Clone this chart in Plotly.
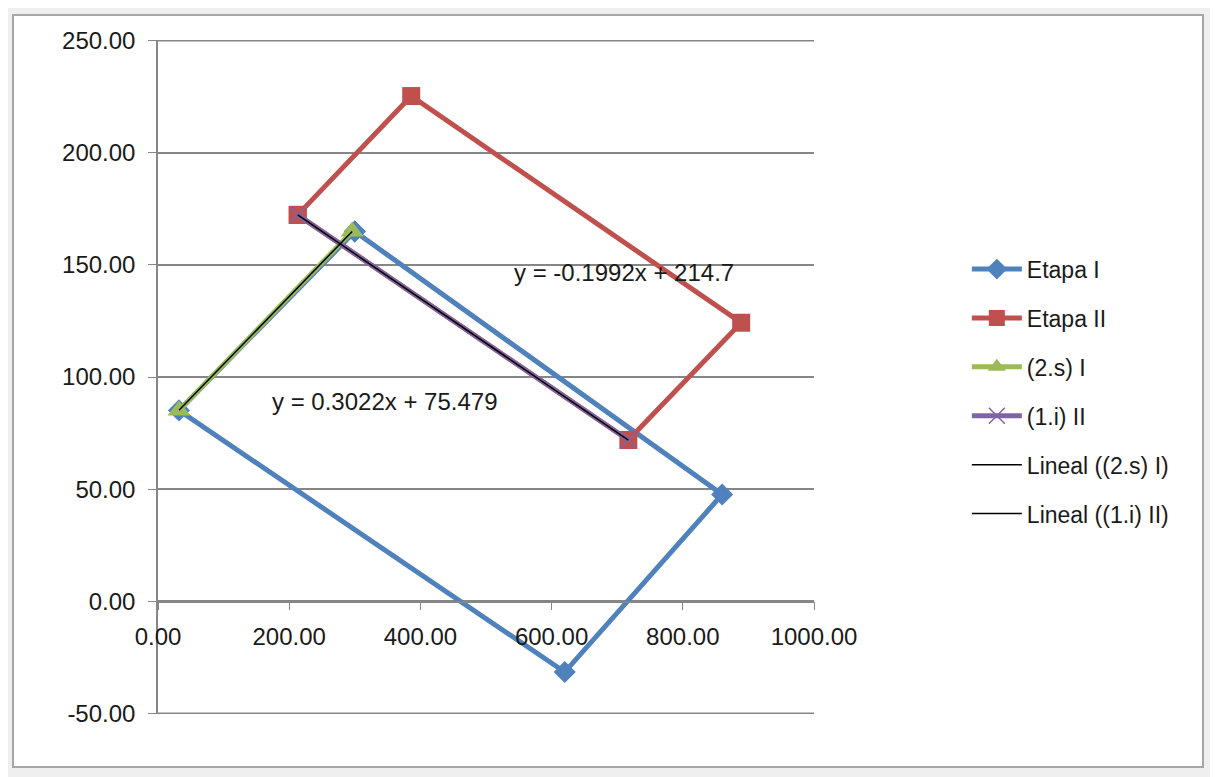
import plotly.graph_objects as go

# ---- data ----
etapa1_x = [300, 32, 620, 860, 300]
etapa1_y = [164.9, 85.1, -31.6, 47.6, 164.9]
etapa2_x = [213, 386, 889, 717, 213]
etapa2_y = [172.3, 225.3, 124.2, 71.9, 172.3]
s2_x = [32, 296]
s2_y = [85.1, 164.9]
i1_x = [213, 717]
i1_y = [172.3, 71.9]
trend_s2 = (0.3022, 75.479)
trend_i1 = (-0.1992, 214.7)
eq_s2_text = "y = 0.3022x + 75.479"
eq_i1_text = "y = -0.1992x + 214.7"
x_ticks = [0, 200, 400, 600, 800, 1000]
x_ticktext = ["0.00", "200.00", "400.00", "600.00", "800.00", "1000.00"]
y_ticks = [-50, 0, 50, 100, 150, 200, 250]
y_ticktext = ["-50.00", "0.00", "50.00", "100.00", "150.00", "200.00", "250.00"]

FONT = "Liberation Sans"
BLUE, RED, GREEN, PURPLE = "#4F81BD", "#C0504D", "#9BBB59", "#8064A2"
TXT = "#1a1a1a"
GRID = "#868686"

fig = go.Figure()
fig.add_trace(go.Scatter(x=etapa1_x, y=etapa1_y, mode="lines+markers", name="Etapa I",
                         legendgroup="a",
                         line=dict(color=BLUE, width=5),
                         marker=dict(symbol="diamond", size=17, color=BLUE)))
fig.add_trace(go.Scatter(x=etapa2_x, y=etapa2_y, mode="lines+markers", name="Etapa II",
                         legendgroup="b",
                         line=dict(color=RED, width=5),
                         marker=dict(symbol="square", size=18, color=RED)))
fig.add_trace(go.Scatter(x=s2_x, y=s2_y, mode="lines+markers", name="(2.s) I",
                         legendgroup="c",
                         line=dict(color=GREEN, width=5),
                         marker=dict(symbol="triangle-up", size=20, color=GREEN)))
fig.add_trace(go.Scatter(x=i1_x, y=i1_y, mode="lines+markers", name="(1.i) II",
                         legendgroup="d",
                         line=dict(color=PURPLE, width=5),
                         marker=dict(symbol="x-thin", size=16, color=PURPLE,
                                     line=dict(color=PURPLE, width=1.5))))

def trend(xs, coef):
    x0, x1 = min(xs), max(xs)
    return [x0, x1], [coef[0] * x0 + coef[1], coef[0] * x1 + coef[1]]

tx, ty = trend(s2_x, trend_s2)
fig.add_trace(go.Scatter(x=tx, y=ty, mode="lines", name="Lineal ((2.s) I)",
                         legendgroup="e", line=dict(color="black", width=1.5)))
tx, ty = trend(i1_x, trend_i1)
fig.add_trace(go.Scatter(x=tx, y=ty, mode="lines", name="Lineal ((1.i) II)",
                         legendgroup="f", line=dict(color="black", width=1.5)))

fig.add_annotation(x=346, y=89, text=eq_s2_text, showarrow=False,
                   font=dict(family=FONT, size=24, color=TXT))
fig.add_annotation(x=711, y=146.5, text=eq_i1_text, showarrow=False,
                   font=dict(family=FONT, size=24, color=TXT))

# chart area frame (white with grey border)
fig.add_shape(type="rect", xref="paper", yref="paper",
              x0=(13 - 158) / 656, x1=(1203 - 158) / 656,
              y0=(714 - 767) / 674, y1=(714 - 15) / 674,
              fillcolor="white", line=dict(color="#a6a6a6", width=2), layer="below")
# gridlines at the range edges (plotly omits them there)
for yv in (y_ticks[0], y_ticks[-1]):
    fig.add_shape(type="line", xref="paper", yref="y", x0=0, x1=1, y0=yv, y1=yv,
                  line=dict(color=GRID, width=1.5), layer="below")

# page body has an 8px margin: shrink figure accordingly
fig.update_layout(
    width=1210, height=769,
    margin=dict(l=150, r=404, t=32, b=63),
    paper_bgcolor="#efefef", plot_bgcolor="white",
    font=dict(family=FONT, size=24, color=TXT),
    showlegend=True,
    legend=dict(x=1.233, y=0.692, xanchor="left", yanchor="top",
                bgcolor="rgba(0,0,0,0)", tracegroupgap=16, itemwidth=50,
                traceorder="grouped", font=dict(size=23)),
    xaxis=dict(range=[0, 1000], tickvals=x_ticks, ticktext=x_ticktext,
               showgrid=False, zeroline=False,
               showline=True, linecolor=GRID, linewidth=1.5,
               ticks="outside", ticklen=8, tickcolor=GRID,
               ticklabelstandoff=6,
               anchor="free", position=1 / 6),
    yaxis=dict(range=[-50.3, 250.3], tickvals=y_ticks, ticktext=y_ticktext,
               showgrid=True, gridcolor=GRID, gridwidth=1.5,
               zeroline=False, showline=True, linecolor=GRID, linewidth=1.5,
               ticks="outside", ticklen=8, tickcolor=GRID,
               ticklabelstandoff=8),
)

fig.write_html("out.html")
